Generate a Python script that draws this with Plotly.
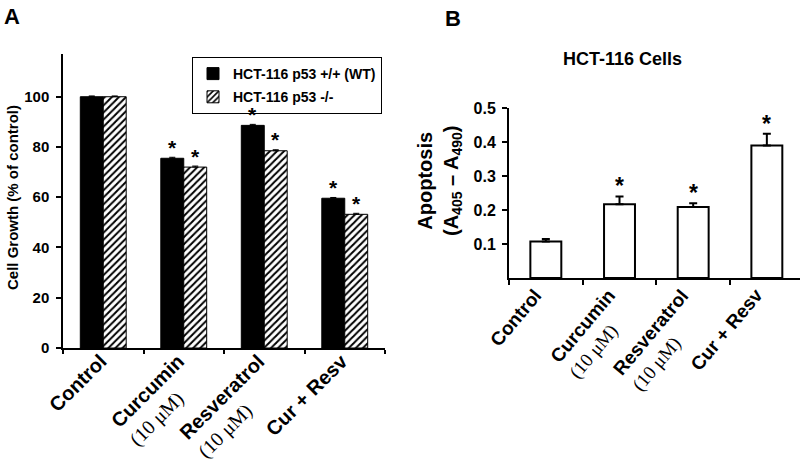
import plotly.graph_objects as go

SANS = "Liberation Sans, Arial, sans-serif"
SERIF = "Liberation Serif"

# ---- data -------------------------------------------------------------
groups = ["Control", "Curcumin", "Resveratrol", "Cur + Resv"]
dose = f'<span style="font-family:{SERIF};font-weight:normal">(10 \u03bcM)</span>'
tick_labels = ["Control", "Curcumin<br>" + dose, "Resveratrol<br>" + dose, "Cur + Resv"]

# panel A: cell growth, % of control
wt_growth = [100.0, 75.5, 88.6, 59.6]
wt_err = [0.3, 0.4, 0.4, 0.3]
ko_growth = [100.0, 72.0, 78.5, 53.2]
ko_err = [0.3, 0.4, 0.4, 0.4]
wt_sig = ["", "*", "*", "*"]
ko_sig = ["", "*", "*", "*"]

# panel B: apoptosis (A405 - A490)
apoptosis = [0.107, 0.217, 0.209, 0.390]
apoptosis_err = [0.008, 0.023, 0.011, 0.034]
apoptosis_sig = ["", "*", "*", "*"]

W, H = 800, 469
A_LEFT, A_RIGHT = 63, 385
BARGAP_A = 0.43


def px(x):
    return x / W


def py(y):
    return 1 - y / H


fig = go.Figure()

fig.add_trace(go.Bar(
    x=groups, y=wt_growth, name="HCT-116 p53 +/+ (WT)",
    xaxis="x", yaxis="y", legendgroup="wt",
    marker=dict(color="black", line=dict(color="black", width=1)),
    error_y=dict(type="data", array=wt_err, symmetric=False,
                 arrayminus=[0] * len(wt_err), color="black", thickness=1, width=3),
))
fig.add_trace(go.Bar(
    x=groups, y=ko_growth, name="HCT-116 p53 -/-",
    xaxis="x", yaxis="y", legendgroup="ko",
    marker=dict(color="white", line=dict(color="black", width=1),
                pattern=dict(shape="/", fgcolor="black", bgcolor="white",
                             size=5, solidity=0.4)),
    error_y=dict(type="data", array=ko_err, symmetric=False,
                 arrayminus=[0] * len(ko_err), color="black", thickness=1, width=3),
))

fig.add_trace(go.Bar(
    x=groups, y=apoptosis, xaxis="x2", yaxis="y2", showlegend=False,
    width=0.42,
    marker=dict(color="white", line=dict(color="black", width=2)),
    error_y=dict(type="data", array=apoptosis_err, symmetric=False,
                 arrayminus=[0] * len(apoptosis_err), color="black", thickness=2, width=4),
))

axis_common = dict(showline=True, linecolor="black", showgrid=False, zeroline=False,
                   ticks="outside", tickcolor="black", automargin=False)

annotations = []

# significance stars just above each bar / error bar
half_bar = (A_RIGHT - A_LEFT) / len(groups) * (1 - BARGAP_A) / 4
for g, v, e, s, v2, e2, s2 in zip(groups, wt_growth, wt_err, wt_sig, ko_growth, ko_err, ko_sig):
    for val, err, star, shift in ((v, e, s, -half_bar), (v2, e2, s2, half_bar)):
        if star:
            annotations.append(dict(
                text=star, x=g, y=val + err, xref="x", yref="y", xshift=shift, yshift=10,
                xanchor="center", yanchor="middle", showarrow=False,
                font=dict(size=21, weight="bold")))
for g, v, e, s in zip(groups, apoptosis, apoptosis_err, apoptosis_sig):
    if s:
        annotations.append(dict(
            text=s, x=g, y=v + e, xref="x2", yref="y2", yshift=10,
            xanchor="center", yanchor="middle", showarrow=False,
            font=dict(size=23, weight="bold")))

# rotated category labels, drawn as annotations so the two-line ones stay left aligned;
# two-line boxes are taller, so they need a bigger push right to line up the first line
for g, lab in zip(groups, tick_labels):
    extra = "<br>" in lab
    annotations.append(dict(
        text=lab, x=g, xref="x", y=py(347), yref="paper",
        xanchor="right", yanchor="top", xshift=26 if extra else 10,
        textangle=-45, align="left",
        showarrow=False, font=dict(size=20, weight="bold")))
    annotations.append(dict(
        text=lab, x=g, xref="x2", y=py(282), yref="paper",
        xanchor="right", yanchor="top", xshift=22 if extra else 3,
        textangle=-50, align="left",
        showarrow=False, font=dict(size=19, weight="bold")))

annotations += [
    dict(text="A", x=px(2), y=py(2), xref="paper", yref="paper",
         xanchor="left", yanchor="top", showarrow=False,
         font=dict(size=22, weight="bold")),
    dict(text="B", x=px(443), y=py(4), xref="paper", yref="paper",
         xanchor="left", yanchor="top", showarrow=False,
         font=dict(size=22, weight="bold")),
    dict(text="HCT-116 Cells", x=px(622), y=py(59), xref="paper", yref="paper",
         xanchor="center", yanchor="middle", showarrow=False,
         font=dict(size=18, weight="bold")),
    dict(text="Cell Growth (% of control)", x=px(12), y=py(198),
         xref="paper", yref="paper", xanchor="center", yanchor="middle",
         textangle=-90, showarrow=False, font=dict(size=15, weight="bold")),
    dict(text="Apoptosis<br>(A<sub>405</sub> \u2013 A<sub>490</sub>)", x=px(439), y=py(181),
         xref="paper", yref="paper", xanchor="center", yanchor="middle",
         textangle=-90, showarrow=False, font=dict(size=20, weight="bold")),
]

fig.update_layout(
    template="none",
    width=W, height=H,
    margin=dict(l=0, r=0, t=0, b=0),
    paper_bgcolor="white", plot_bgcolor="white",
    font=dict(family=SANS, color="black"),
    barmode="group", bargap=BARGAP_A, bargroupgap=0,
    xaxis=dict(domain=[px(A_LEFT), px(A_RIGHT)], anchor="y", range=[-0.5, 3.5],
               showticklabels=False, tickson="boundaries",
               ticklen=4, linewidth=1.5, tickwidth=1.5, **axis_common),
    yaxis=dict(domain=[py(348), py(54)], anchor="x", range=[0, 117], dtick=20,
               ticklen=5, linewidth=1.5, tickwidth=1.5, ticklabelstandoff=4,
               tickfont=dict(family=SANS, size=15, color="black", weight="bold"),
               **axis_common),
    xaxis2=dict(domain=[px(509), 1.0], anchor="y2", range=[-0.5, 3.45],
                showticklabels=False, tickson="boundaries",
                ticklen=5, linewidth=2, tickwidth=2, **axis_common),
    yaxis2=dict(domain=[py(278), py(108)], anchor="x2", range=[0, 0.5],
                tickvals=[0.1, 0.2, 0.3, 0.4, 0.5], tickformat=".1f",
                ticklen=5, linewidth=2, tickwidth=2, ticklabelstandoff=3,
                tickfont=dict(family=SANS, size=16, color="black", weight="bold"),
                **axis_common),
    legend=dict(x=px(192), y=py(57), xanchor="left", yanchor="top",
                bordercolor="black", borderwidth=1, bgcolor="white",
                tracegroupgap=2, itemwidth=30,
                font=dict(family=SANS, size=14, color="black", weight="bold")),
    annotations=annotations,
)

# the page body has a default 8px margin; drop it so the figure sits at the window corner
fig.write_html("out.html", config={"displayModeBar": False},
               post_script="document.body.style.margin = '0';")
